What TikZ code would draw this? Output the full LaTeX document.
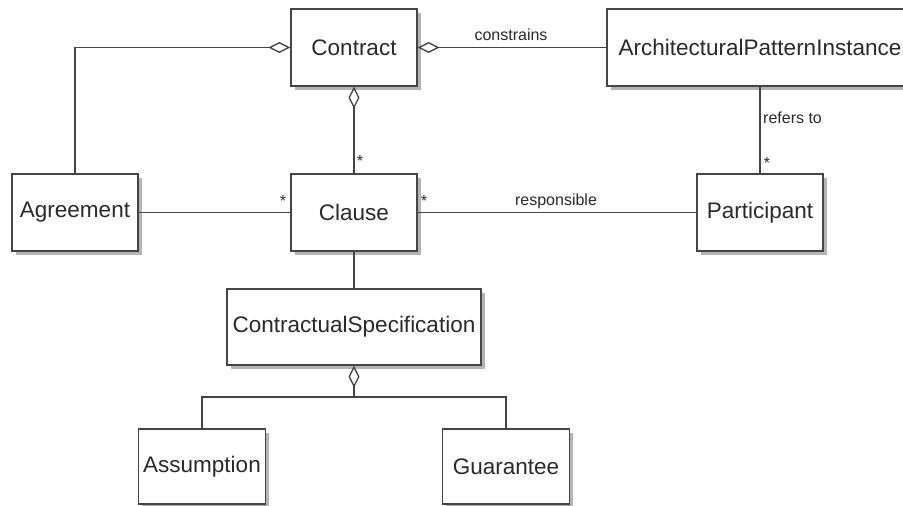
\documentclass[tikz,border=0pt]{standalone}
\usepackage{fontspec}
\setmainfont{Liberation Sans}
\usetikzlibrary{arrows.meta,shadows,calc}
\definecolor{linec}{HTML}{454545}
\definecolor{textc}{HTML}{2A2A2A}
\definecolor{shadc}{HTML}{B4B4B4}
\tikzset{
  umlbox/.style={draw=linec, line width=1.3pt, fill=white, text=textc,
    minimum height=77pt, inner sep=0pt,
    font=\fontsize{22.5}{27}\selectfont,
    drop shadow={shadow xshift=3.5pt, shadow yshift=-3.5pt, fill=shadc, opacity=1}},
  conn/.style={draw=linec, line width=1.3pt},
  agg/.style={conn, -{Diamond[open, fill=white, length=22pt, width=11pt]}},
  lbl/.style={text=textc, font=\fontsize{16}{19}\selectfont, inner sep=0pt},
  mult/.style={text=textc, font=\fontsize{16}{19}\selectfont, inner sep=0pt}
}
\begin{document}
\begin{tikzpicture}[x=1pt,y=-1pt]
\clip (0,0) rectangle (903,506);
\fill[white] (0,0) rectangle (903,506);
% boxes
\node[umlbox, minimum width=126pt] (contract) at (354,47.5) {Contract};
\node[umlbox, minimum width=306pt] (api) at (760,47.5) {ArchitecturalPatternInstance};
\node[umlbox, minimum width=126pt] (agreement) at (75,212.5) {Agreement};
\node[umlbox, minimum width=126pt] (clause) at (354,212.5) {Clause};
\node[umlbox, minimum width=126pt] (participant) at (760,212.5) {Participant};
\node[umlbox, minimum width=254pt, minimum height=76pt] (cspec) at (354,327) {ContractualSpecification};
\node[umlbox, minimum width=127pt, minimum height=75pt] (assumption) at (202,466.5) {Assumption};
\node[umlbox, minimum width=127pt, minimum height=75pt] (guarantee) at (506,466.5) {Guarantee};
% connectors
\draw[agg] (agreement.north) |- (contract.west);
\draw[agg] (api.west) -- (contract.east);
\draw[agg] (clause.north) -- (contract.south);
\draw[conn] (agreement.east) -- (clause.west);
\draw[conn] (clause.east) -- (participant.west);
\draw[conn] (api.south) -- (participant.north);
\draw[conn] (clause.south) -- (cspec.north);
\coordinate (join) at (354,397);
\draw[agg] (join) -- (cspec.south);
\draw[conn] (assumption.north) |- (join) -| (guarantee.north);
% labels
\node[lbl] (lconstrains) at (511,35) {constrains};
\node[lbl] (lresp) at (556,201) {responsible};
\node[lbl, anchor=west] (lrefers) at (763,118) {refers to};
\node[mult] (m1) at (360,161) {*};
\node[mult] (m2) at (283,201) {*};
\node[mult] (m3) at (424,201) {*};
\node[mult] (m4) at (767,163) {*};
\end{tikzpicture}
\end{document}
